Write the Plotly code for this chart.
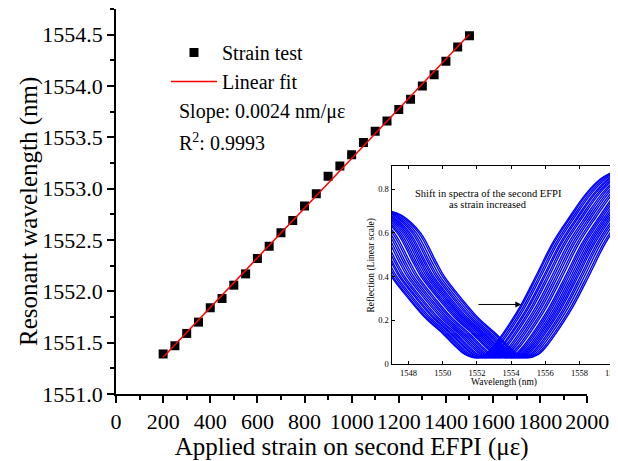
import numpy as np
import plotly.graph_objects as go

# ---------------- data ----------------
strain = [200, 250, 300, 350, 400, 450, 500, 550, 600, 650, 700, 750, 800, 850,
          900, 950, 1000, 1050, 1100, 1150, 1200, 1250, 1300, 1350, 1400, 1450, 1500]
resonant_wl = [1551.39, 1551.47, 1551.59, 1551.70, 1551.84, 1551.93, 1552.06, 1552.17,
               1552.32, 1552.44, 1552.57, 1552.69, 1552.83, 1552.95, 1553.12, 1553.22,
               1553.33, 1553.45, 1553.56, 1553.66, 1553.77, 1553.87, 1554.00, 1554.11,
               1554.24, 1554.38, 1554.49]

# inset: first (unstrained) reflection spectrum
spec_wl = [1543.8, 1544.5, 1545.6, 1546.5, 1547.0, 1548.0, 1549.0, 1550.0, 1550.7,
           1551.3, 1551.9, 1552.5, 1553.0, 1553.5, 1554.5, 1555.5, 1556.4, 1557.4,
           1558.4, 1559.3, 1560.3]
spec_refl = [0.70, 0.68, 0.60, 0.47, 0.40, 0.30, 0.21, 0.14, 0.085,
             0.045, 0.03, 0.045, 0.085, 0.138, 0.26, 0.41, 0.55, 0.67,
             0.78, 0.85, 0.89]

slope_text = "Slope: 0.0024 nm/\u03bc\u03b5"
r2_text = "R<sup>2</sup>: 0.9993"

# ---------------- figure ----------------
OFF = 8                      # page body margin of the html page
W, H = 618 - OFF, 461 - OFF  # figure size
# plot area in window pixels: left 116, right 617, top 9, bottom 394
L = 116 - OFF
T = 9 - OFF
R = W - (617 - OFF)
B = H - (394 - OFF)
pw, ph = W - L - R, H - T - B


def px(x):
    """window pixel x -> paper fraction"""
    return (x - OFF - L) / pw


def py(y):
    """window pixel y -> paper fraction"""
    return (H - B - (y - OFF)) / ph


FONT = "Liberation Serif, Times New Roman, serif"

fig = go.Figure()

# main data
fig.add_trace(go.Scatter(
    x=strain, y=resonant_wl, mode="markers", name="Strain test",
    marker=dict(symbol="square", size=9, color="black")))

coef = np.polyfit(strain, resonant_wl, 1)
fit_x = [strain[0], strain[-1]]
fit_y = list(np.polyval(coef, fit_x))
fig.add_trace(go.Scatter(
    x=fit_x, y=fit_y, mode="lines", name="Linear fit",
    line=dict(color="red", width=1.5)))

# inset spectra
for k, wl in enumerate(resonant_wl):
    shift = wl - resonant_wl[0]
    fig.add_trace(go.Scatter(
        x=[w + shift for w in spec_wl], y=spec_refl,
        mode="lines", line=dict(color="#0000ff", width=1.4, shape="spline"),
        xaxis="x2", yaxis="y2", showlegend=False, hoverinfo="skip"))

axis_common = dict(showline=True, linecolor="black", showgrid=False, zeroline=False,
                   ticks="outside", tickcolor="black", automargin=False)

fig.update_layout(
    width=W, height=H,
    margin=dict(l=L, r=R, t=T, b=B, autoexpand=False),
    paper_bgcolor="white", plot_bgcolor="white",
    font=dict(family=FONT, color="black"),
    xaxis=dict(**axis_common, domain=[0, px(587.3)], range=[0, 2000],
               tick0=0, dtick=200, linewidth=1.5, tickwidth=1.5, ticklen=7, tickangle=0,
               minor=dict(dtick=100, ticklen=4, ticks="outside", tickcolor="black", tickwidth=1.5),
               tickfont=dict(size=22),
               title=dict(text="Applied strain on second EFPI (\u03bc\u03b5)",
                          font=dict(size=25), standoff=7)),
    yaxis=dict(**axis_common, domain=[0, 1], range=[1551.0, 1554.75],
               tick0=1551, dtick=0.5, tickformat=".1f", linewidth=1.5, tickwidth=1.5, ticklen=7,
               minor=dict(dtick=0.25, ticklen=4, ticks="outside", tickcolor="black", tickwidth=1.5),
               tickfont=dict(size=22)),
    xaxis2=dict(domain=[px(391.5), 1], range=[1547, 1560.2], anchor="y2",
                showline=True, mirror="ticks", linecolor="black", linewidth=1,
                ticks="inside", ticklen=3, tickcolor="black", dtick=2, tick0=1548,
                tickangle=0, automargin=False, ticklabeloverflow="allow",
                showgrid=False, zeroline=False, tickfont=dict(size=8.5)),
    yaxis2=dict(domain=[py(364.3), py(166)], range=[0, 0.905], anchor="x2",
                showline=True, mirror="ticks", linecolor="black", linewidth=1,
                ticks="inside", ticklen=3, tickcolor="black", dtick=0.2, tick0=0,
                automargin=False,
                showgrid=False, zeroline=False, tickfont=dict(size=8.5)),
    legend=dict(x=px(166), y=py(33), xanchor="left", yanchor="top",
                bgcolor="rgba(0,0,0,0)", font=dict(size=20), itemwidth=46,
                tracegroupgap=0),
    showlegend=True,
)

annos = [
    dict(text="Resonant wavelength (nm)", x=px(29), y=py(212), textangle=-90,
         xanchor="center", yanchor="middle", font=dict(size=25)),
    dict(text=slope_text, x=px(177), y=py(112), xanchor="left", yanchor="middle",
         font=dict(size=20)),
    dict(text=r2_text, x=px(177), y=py(142), xanchor="left", yanchor="middle",
         font=dict(size=20)),
    dict(text="Shift in spectra of the second EFPI", x=px(488.3), y=py(193.3),
         xanchor="center", yanchor="middle", font=dict(size=10.5)),
    dict(text="as strain increased", x=px(488.3), y=py(204.3),
         xanchor="center", yanchor="middle", font=dict(size=10.5)),
    dict(text="Wavelength (nm)", x=px(504), y=py(382),
         xanchor="center", yanchor="middle", font=dict(size=9.5)),
    dict(text="Reflection (Linear scale)", x=px(371.7), y=py(265.8), textangle=-90,
         xanchor="center", yanchor="middle", font=dict(size=9.5)),
]
for a in annos:
    fig.add_annotation(xref="paper", yref="paper", showarrow=False, **a)

fig.add_annotation(x=1554.6, y=0.273, ax=1552.0, ay=0.273, xref="x2", yref="y2",
                   axref="x2", ayref="y2", showarrow=True, arrowhead=2, arrowsize=1.2,
                   arrowwidth=1, arrowcolor="black", text="")

fig.write_html("out.html")
